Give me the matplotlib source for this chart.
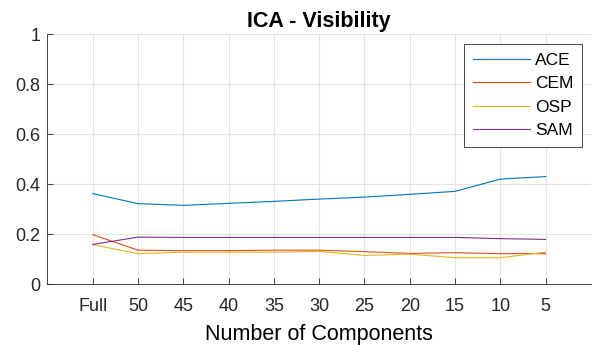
import numpy as np
import matplotlib
matplotlib.use("Agg")
import matplotlib.pyplot as plt

plt.rcParams['font.family'] = ['Liberation Sans', 'DejaVu Sans']

# Visibility scores per detector vs. number of ICA components kept
components = ['Full', '50', '45', '40', '35', '30', '25', '20', '15', '10', '5']
ace = [0.363, 0.323, 0.316, 0.324, 0.332, 0.341, 0.349, 0.360, 0.372, 0.421, 0.431]
cem = [0.199, 0.137, 0.135, 0.135, 0.137, 0.137, 0.131, 0.124, 0.127, 0.123, 0.123]
osp = [0.159, 0.123, 0.129, 0.129, 0.129, 0.132, 0.116, 0.121, 0.107, 0.107, 0.129]
sam = [0.160, 0.189, 0.188, 0.188, 0.188, 0.188, 0.188, 0.188, 0.188, 0.183, 0.180]

x = np.arange(1, len(components) + 1)

fig = plt.figure(figsize=(5.96, 3.45), dpi=100)
ax = fig.add_axes([0.0795, 0.1755, 0.912, 0.7255])

lw = 0.8
ax.plot(x, ace, color='#0072BD', lw=lw, label='ACE')
ax.plot(x, cem, color='#D95319', lw=lw, label='CEM')
ax.plot(x, osp, color='#EDB120', lw=lw, label='OSP')
ax.plot(x, sam, color='#7E2F8E', lw=lw, label='SAM')

ax.set_xlim(0, 12)
ax.set_ylim(0, 1)
ax.set_xticks(x)
ax.set_xticklabels(components)
ax.set_yticks([0, 0.2, 0.4, 0.6, 0.8, 1])
ax.set_yticklabels(['0', '0.2', '0.4', '0.6', '0.8', '1'])
ax.tick_params(direction='in', length=4, width=0.6, labelsize=13, colors='#262626')
ax.tick_params(axis='x', pad=10)
ax.tick_params(axis='y', pad=5)
ax.grid(True, color='#e3e3e3', lw=0.8)
ax.set_axisbelow(True)
for s in ['top', 'right']:
    ax.spines[s].set_visible(False)
for s in ['left', 'bottom']:
    ax.spines[s].set_color('#262626')
    ax.spines[s].set_linewidth(0.6)

ax.set_title('ICA - Visibility', fontsize=15.5, fontweight='bold', pad=5)
ax.set_xlabel('Number of Components', fontsize=15.5, labelpad=6)

leg = ax.legend(loc='upper right', bbox_to_anchor=(0.984, 0.96), fontsize=12.5,
                fancybox=False, framealpha=1, edgecolor='#262626',
                handlelength=3.3, handletextpad=0.3, borderpad=0.5,
                labelspacing=0.48, borderaxespad=0)
leg.get_frame().set_linewidth(0.6)

fig.savefig('out.png', dpi=100)
